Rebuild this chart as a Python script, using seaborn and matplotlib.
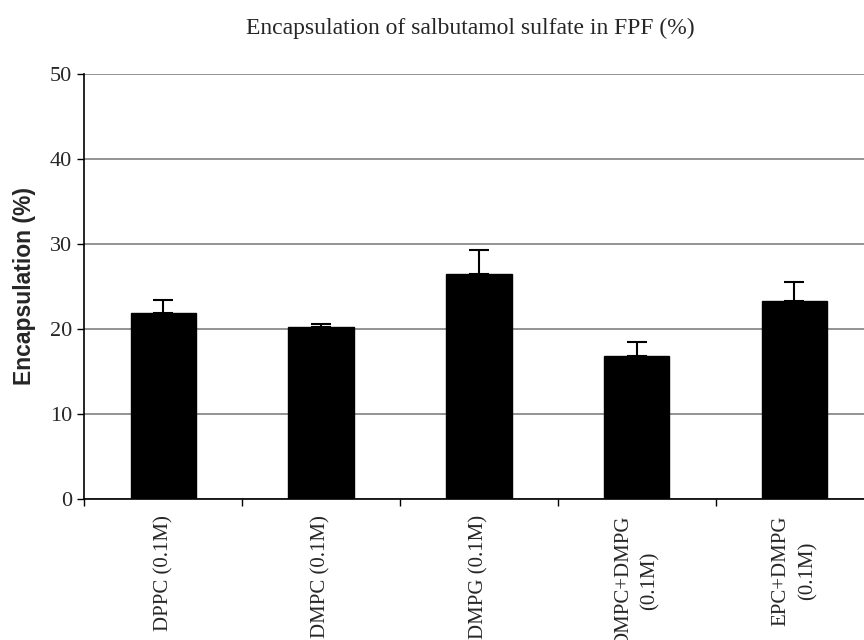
import matplotlib
matplotlib.use("Agg")
import matplotlib.pyplot as plt
import seaborn as sns
import pandas as pd
import numpy as np

# Encapsulation data (mean and upper error)
formulations = ["DPPC (0.1M)", "DMPC (0.1M)", "DMPG (0.1M)",
                "DMPC+DMPG\n(0.1M)", "EPC+DMPG\n(0.1M)"]
encapsulation = [21.9, 20.2, 26.5, 16.8, 23.3]
error_upper = [1.5, 0.4, 2.8, 1.7, 2.2]

sns.set_theme(style="white")
plt.rcParams["font.family"] = ["Liberation Serif", "DejaVu Serif"]

df = pd.DataFrame({"Formulation": formulations, "Encapsulation": encapsulation})

fig = plt.figure(figsize=(8.64, 6.4), dpi=100)
ax = fig.add_axes([0.0978, 0.2208, 0.913, 0.6632])

sns.barplot(data=df, x="Formulation", y="Encapsulation", color="black",
            width=0.414, errorbar=None, saturation=1, ax=ax, zorder=3,
            edgecolor="black")

x = np.arange(len(formulations))
ax.errorbar(x, encapsulation, yerr=[np.zeros(len(x)), error_upper],
            fmt="none", ecolor="black", elinewidth=1.5, capsize=7,
            capthick=1.5, zorder=4)

ax.set_ylim(0, 50)
ax.set_xlim(-0.5, len(formulations) - 0.5)
ax.set_yticks([0, 10, 20, 30, 40, 50])
ax.yaxis.grid(True, color="#808080", linewidth=1.2, zorder=0)
ax.set_axisbelow(True)

for s in ["top", "right"]:
    ax.spines[s].set_visible(False)
for s in ["left", "bottom"]:
    ax.spines[s].set_color("black")
    ax.spines[s].set_linewidth(1.2)

ax.set_xticks(x)
ax.set_xticklabels(formulations, rotation=90, ha="center", va="top",
                   multialignment="center", fontsize=15, linespacing=1.5)
ax.set_xticks(np.arange(-0.5, len(formulations), 1.0), minor=True)
ax.tick_params(axis="x", which="major", length=0, pad=12)
ax.tick_params(axis="x", which="minor", length=5, width=1, color="black",
               direction="out", bottom=True)
ax.tick_params(axis="y", length=5, width=1, color="black", direction="out",
               left=True, labelsize=16, pad=4)

ax.set_xlabel("")
ax.set_ylabel("Encapsulation (%)", fontsize=16.5, fontweight="bold",
              family=["Liberation Sans", "DejaVu Sans"], labelpad=10)

fig.text(0.544, 0.955, "Encapsulation of salbutamol sulfate in FPF (%)",
         ha="center", va="center", fontsize=17)

fig.savefig("out.png", dpi=100)
